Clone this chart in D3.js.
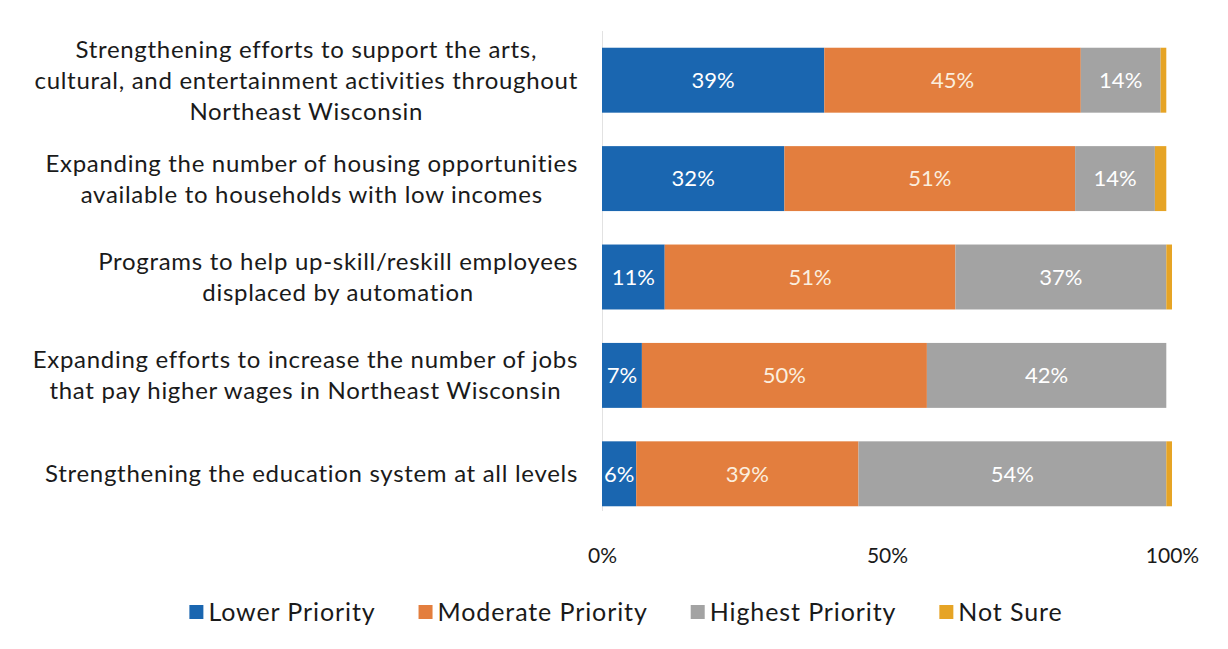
<!DOCTYPE html>
<html>
<head>
<meta charset="utf-8">
<script src="https://cdn.jsdelivr.net/npm/d3@7"></script>
<style>
  html, body { margin: 0; padding: 0; background: #ffffff; }
  svg { display: block; font-family: Lato, "Open Sans", sans-serif; }
</style>
</head>
<body>
<svg id="chart" width="1228" height="649"></svg>
<script>
// Survey items (each label split into its display lines)
const categories = [
  ["Strengthening efforts to support the arts,", "cultural, and entertainment activities throughout", "Northeast Wisconsin"],
  ["Expanding the number of housing opportunities", "available to households with low incomes"],
  ["Programs to help up-skill/reskill employees", "displaced by automation"],
  ["Expanding efforts to increase the number of jobs", "that pay higher wages in Northeast Wisconsin"],
  ["Strengthening the education system at all levels"]
];

const seriesNames = ["Lower Priority", "Moderate Priority", "Highest Priority", "Not Sure"];

// Share of respondents (%) per item
const lowerPriority    = [39, 32, 11, 7, 6];
const moderatePriority = [45, 51, 51, 50, 39];
const highestPriority  = [14, 14, 37, 42, 54];
const notSure          = [1, 2, 1, 0, 1];

const tickValues = [0, 50, 100];

const colors = ["#1a66b0", "#e37e3e", "#a3a3a3", "#e6a425"];

// Build the table the stack layout needs
const rows = categories.map((c, i) => ({
  key: i,
  "Lower Priority": lowerPriority[i],
  "Moderate Priority": moderatePriority[i],
  "Highest Priority": highestPriority[i],
  "Not Sure": notSure[i]
}));

const svg = d3.select("#chart");

const x = d3.scaleLinear().domain([0, 100]).range([602, 1172]);
const y = d3.scaleBand()
  .domain(d3.range(categories.length))
  .range([31, 523])
  .paddingInner(0.34)
  .paddingOuter(0.17);
const color = d3.scaleOrdinal().domain(seriesNames).range(colors);

const stacked = d3.stack().keys(seriesNames)(rows);

// Vertical baseline at 0%
svg.append("line")
  .attr("x1", x(0) + 0.5).attr("x2", x(0) + 0.5)
  .attr("y1", 31).attr("y2", 511)
  .attr("stroke", "#e2e2e2").attr("stroke-width", 1);

// Bar segments
const layer = svg.append("g").selectAll("g")
  .data(stacked)
  .join("g")
  .attr("fill", d => color(d.key));

layer.selectAll("rect")
  .data(d => d)
  .join("rect")
  .attr("x", d => x(d[0]))
  .attr("y", (d, i) => y(i))
  .attr("width", d => x(d[1]) - x(d[0]))
  .attr("height", y.bandwidth());

// Value labels inside the first three segments
const labelled = stacked.filter(s => s.key !== "Not Sure");
svg.append("g").selectAll("g")
  .data(labelled)
  .join("g")
  .attr("fill", d => d.key === "Moderate Priority" ? "#fbeede" : "#ffffff")
  .selectAll("text")
  .data(d => d.map((v, i) => ({ v, i, val: v[1] - v[0] })))
  .join("text")
  .attr("x", d => (x(d.v[0]) + x(d.v[1])) / 2)
  .attr("y", d => y(d.i) + y.bandwidth() / 2)
  .attr("dy", "0.35em")
  .attr("text-anchor", "middle")
  .attr("font-size", 22)
  .text(d => d.val + "%");

// Category labels: lines centred within a block whose right edge sits left of the bars
const labelRight = 578;
const lineHeight = 31;
const catG = svg.append("g").attr("fill", "#1a1a1a")
  .attr("font-size", 24).attr("letter-spacing", 0.7);
categories.forEach((lines, i) => {
  const g = catG.append("g");
  const texts = lines.map((t, j) => g.append("text")
    .attr("y", y(i) + y.bandwidth() / 2 + (j - (lines.length - 1) / 2) * lineHeight)
    .attr("dy", "0.35em")
    .attr("text-anchor", "middle")
    .text(t));
  const maxW = d3.max(texts, t => t.node().getBBox().width);
  texts.forEach(t => t.attr("x", labelRight - maxW / 2));
});

// Bottom axis tick labels
const axis = d3.axisBottom(x)
  .tickValues(tickValues)
  .tickFormat(d => d + "%")
  .tickSize(0)
  .tickPadding(0);
const axG = svg.append("g").attr("transform", "translate(0,548)").call(axis);
axG.select(".domain").remove();
axG.selectAll("text")
  .attr("font-family", "Lato, 'Open Sans', sans-serif")
  .attr("font-size", 21)
  .attr("fill", "#1a1a1a");

// Legend
const legend = svg.append("g").attr("font-size", 25).attr("letter-spacing", 0.9).attr("fill", "#1a1a1a");
const swatch = 14, gapText = 5, gapItem = 43;
let lx = 0;
seriesNames.forEach(name => {
  const g = legend.append("g");
  g.append("rect").attr("width", swatch).attr("height", swatch)
    .attr("y", -swatch / 2).attr("fill", color(name));
  const t = g.append("text").attr("x", swatch + gapText).attr("dy", "0.35em").text(name);
  const w = swatch + gapText + t.node().getBBox().width;
  g.attr("transform", `translate(${lx},0)`);
  lx += w + gapItem;
});
const legendW = lx - gapItem;
legend.attr("transform", `translate(${626 - legendW / 2},612)`);
</script>
</body>
</html>
